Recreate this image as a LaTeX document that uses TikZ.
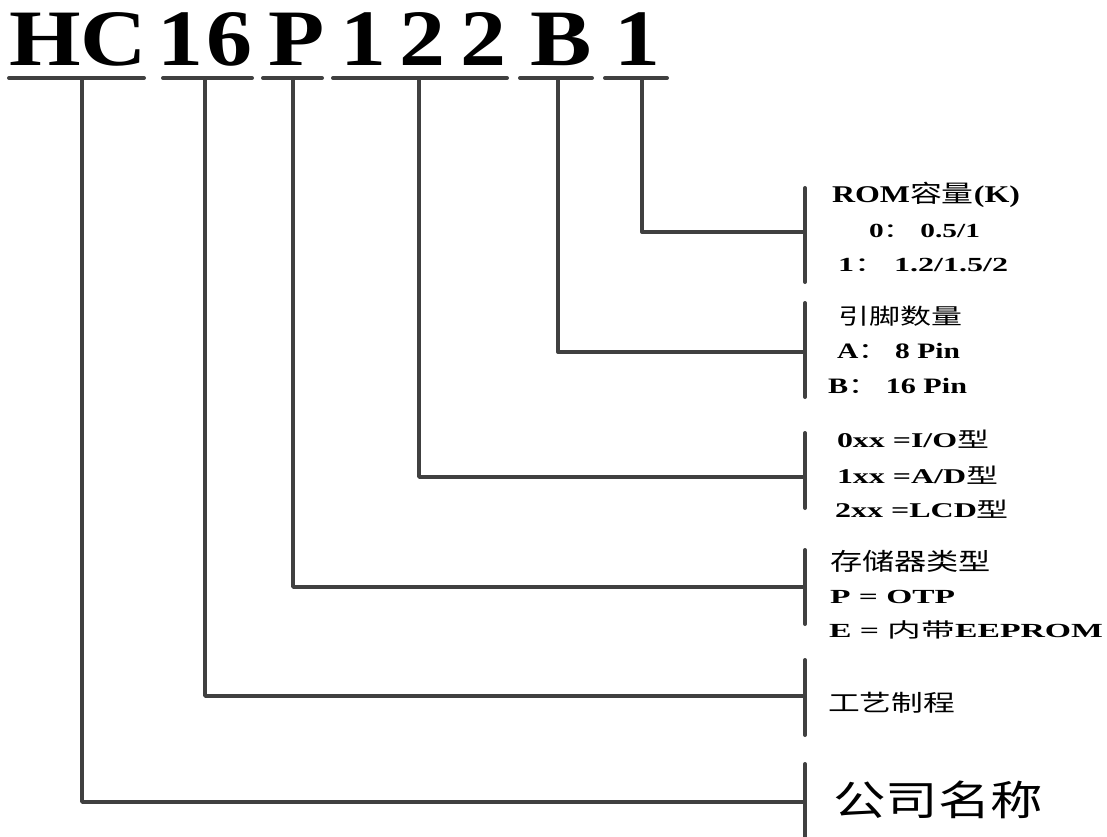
\documentclass[tikz,border=0pt]{standalone}
\usepackage{fontspec}
\setmainfont{Liberation Serif}
\newfontfamily\cjk{Noto Sans CJK SC}
\newcommand\cjt[1]{{\cjk\mdseries #1}}
\newcommand\fitto[3]{\resizebox{#1pt}{\height}{\fontsize{#2}{#2}\selectfont #3}}
\newcommand\ttlch[1]{\scalebox{1.15}[1]{\fontsize{80}{80}\selectfont\bfseries #1}}
\definecolor{lncol}{HTML}{404040}
\tikzset{
  lbl/.style={anchor=base west, inner sep=0pt, outer sep=0pt},
  ttl/.style={anchor=base, inner sep=0pt, outer sep=0pt},
  uline/.style={draw=lncol, line width=4pt, line cap=round},
  conn/.style={draw=lncol, line width=3.4pt, line join=round},
  barln/.style={draw=lncol, line width=4pt, line cap=round},
}
\begin{document}
\begin{tikzpicture}[x=1pt,y=-1pt]
\useasboundingbox (0,0) rectangle (1107,836);
% title characters
\node[ttl] (tHC) at (78,65) {\ttlch{HC}};
\node[ttl] (t1a) at (180,65) {\ttlch{1}};
\node[ttl] (t6) at (229,65) {\ttlch{6}};
\node[ttl] (tP) at (297,65) {\ttlch{P}};
\node[ttl] (t1b) at (363,65) {\ttlch{1}};
\node[ttl] (t2a) at (422,65) {\ttlch{2}};
\node[ttl] (t2b) at (483,65) {\ttlch{2}};
\node[ttl] (tB) at (561,65) {\ttlch{B}};
\node[ttl] (t1c) at (637,65) {\ttlch{1}};
% underlines
\coordinate (uHCa) at (9,78);   \coordinate (uHCb) at (144,78);
\coordinate (u16a) at (163,78); \coordinate (u16b) at (252,78);
\coordinate (uPa) at (263,78);  \coordinate (uPb) at (322,78);
\coordinate (uNa) at (333,78);  \coordinate (uNb) at (507,78);
\coordinate (uBa) at (520,78);  \coordinate (uBb) at (592,78);
\coordinate (u1a) at (605,78);  \coordinate (u1b) at (667,78);
\foreach \a/\b in {uHCa/uHCb,u16a/u16b,uPa/uPb,uNa/uNb,uBa/uBb,u1a/u1b}
  \draw[uline] (\a) -- (\b);
% drop points
\coordinate (dHC) at (82,78);
\coordinate (d16) at (205,78);
\coordinate (dP) at (293,78);
\coordinate (dN) at (419,78);
\coordinate (dB) at (558,78);
\coordinate (d1) at (642,78);
% bars
\coordinate (b1t) at (805,188); \coordinate (b1m) at (805,232); \coordinate (b1b) at (805,282);
\coordinate (b2t) at (805,303); \coordinate (b2m) at (805,352); \coordinate (b2b) at (805,397);
\coordinate (b3t) at (805,433); \coordinate (b3m) at (805,477); \coordinate (b3b) at (805,508);
\coordinate (b4t) at (805,550); \coordinate (b4m) at (805,587); \coordinate (b4b) at (805,624);
\coordinate (b5t) at (805,660); \coordinate (b5m) at (805,696); \coordinate (b5b) at (805,735);
\coordinate (b6t) at (805,764); \coordinate (b6m) at (805,802); \coordinate (b6b) at (805,840);
\foreach \t/\b in {b1t/b1b,b2t/b2b,b3t/b3b,b4t/b4b,b5t/b5b,b6t/b6b}
  \draw[barln] (\t) -- (\b);
% connectors
\draw[conn] (d1) |- (b1m);
\draw[conn] (dB) |- (b2m);
\draw[conn] (dN) |- (b3m);
\draw[conn] (dP) |- (b4m);
\draw[conn] (d16) |- (b5m);
\draw[conn] (dHC) |- (b6m);
% labels
\node[lbl] (rom1) at (832,202) {\fitto{188}{24}{\bfseries ROM\cjt{容量}(K)}};
\node[lbl] (rom2) at (869,237) {\fitto{111}{20}{\bfseries 0\cjt{：} 0.5/1}};
\node[lbl] (rom3) at (838,271) {\fitto{170}{20}{\bfseries 1\cjt{：} 1.2/1.5/2}};
\node[lbl] (pin1) at (838,324) {\fitto{124}{22}{\cjt{引脚数量}}};
\node[lbl] (pin2) at (837,358) {\fitto{123}{22}{\bfseries A\cjt{：} 8 Pin}};
\node[lbl] (pin3) at (828,393) {\fitto{139}{22}{\bfseries B\cjt{：} 16 Pin}};
\node[lbl] (io1) at (837,447) {\fitto{152}{21}{\bfseries 0xx =I/O\cjt{型}}};
\node[lbl] (io2) at (837,483) {\fitto{161}{21}{\bfseries 1xx =A/D\cjt{型}}};
\node[lbl] (io3) at (835,517) {\fitto{174}{21}{\bfseries 2xx =LCD\cjt{型}}};
\node[lbl] (mem1) at (830,570) {\fitto{161}{24}{\cjt{存储器类型}}};
\node[lbl] (mem2) at (830,603) {\fitto{125}{20}{\bfseries P = OTP}};
\node[lbl] (mem3) at (829,637) {\fitto{274}{20}{\bfseries E = \cjt{内带}EEPROM}};
\node[lbl] (proc) at (828,711) {\fitto{127}{23}{\cjt{工艺制程}}};
\node[lbl] (comp) at (833,815) {\fitto{210}{41}{\cjt{公司名称}}};
\end{tikzpicture}
\end{document}
